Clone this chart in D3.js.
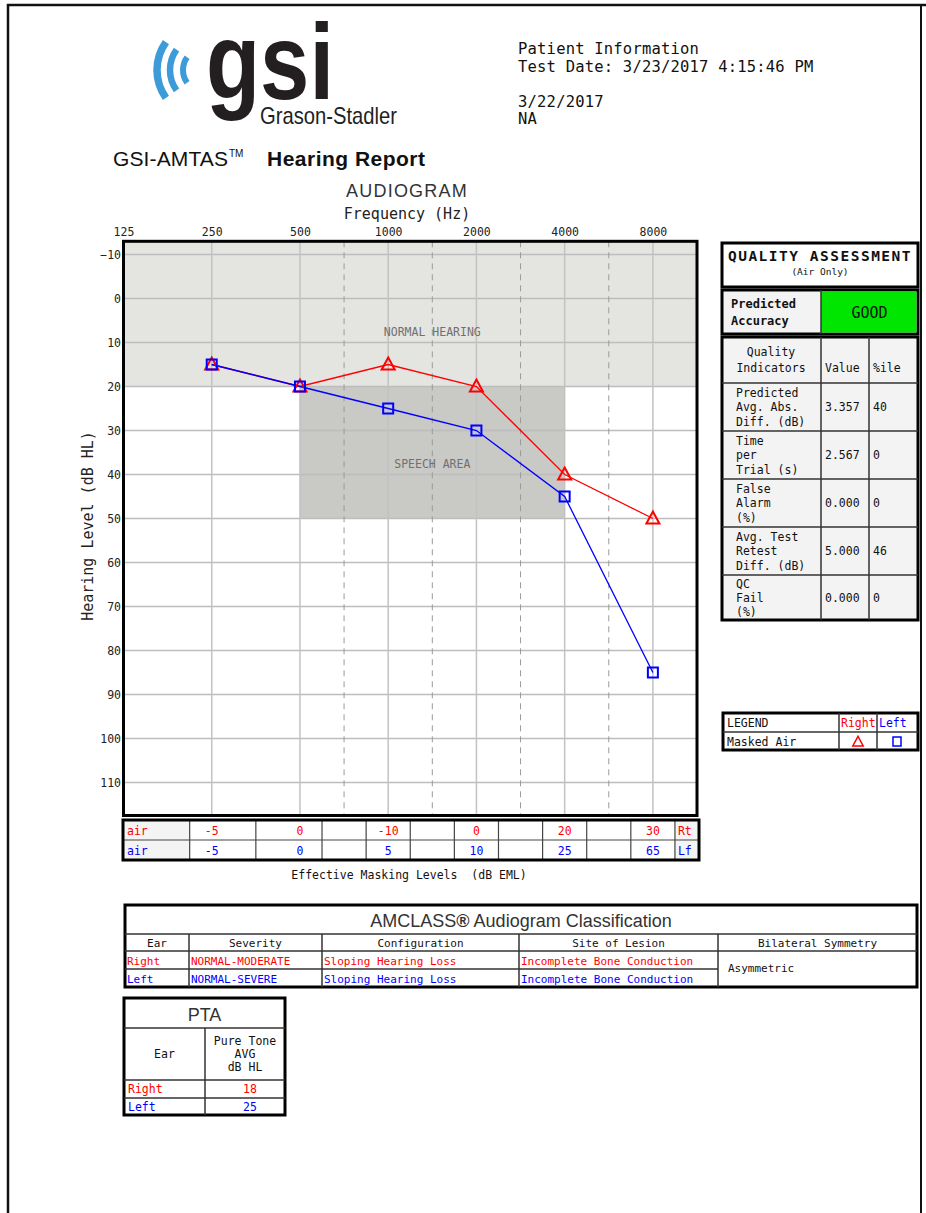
<!DOCTYPE html>
<html>
<head>
<meta charset="utf-8">
<script src="https://cdn.jsdelivr.net/npm/d3@7"></script>
<style>
  body { margin: 0; background: #fff; }
  svg { display: block; }
</style>
</head>
<body>
<script>
// ---- Audiogram data ----
const axisFrequencies = [125, 250, 500, 1000, 2000, 4000, 8000];
const testFrequencies = [250, 500, 1000, 2000, 4000, 8000];
const rightThresholds = [15, 20, 15, 20, 40, 50];   // dB HL, masked air, right ear
const leftThresholds  = [15, 20, 25, 30, 45, 85];   // dB HL, masked air, left ear
const levelTicks = [-10, 0, 10, 20, 30, 40, 50, 60, 70, 80, 90, 100, 110];

// Effective masking levels (dB EML)
const rightMasking = [-5, 0, -10, 0, 20, 30];
const leftMasking  = [-5, 0, 5, 10, 25, 65];

// Quality assessment
const qualityLabels = [
  ["Predicted", "Avg. Abs.", "Diff. (dB)"],
  ["Time", "per", "Trial (s)"],
  ["False", "Alarm", "(%)"],
  ["Avg. Test", "Retest", "Diff. (dB)"],
  ["QC", "Fail", "(%)"]
];
const qualityValues = ["3.357", "2.567", "0.000", "5.000", "0.000"];
const qualityPercentiles = ["40", "0", "0", "46", "0"];
const predictedAccuracy = "GOOD";

// AMCLASS classification
const classHeaders = ["Ear", "Severity", "Configuration", "Site of Lesion", "Bilateral Symmetry"];
const classRight = ["Right", "NORMAL-MODERATE", "Sloping Hearing Loss", "Incomplete Bone Conduction"];
const classLeft  = ["Left", "NORMAL-SEVERE", "Sloping Hearing Loss", "Incomplete Bone Conduction"];
const bilateralSymmetry = "Asymmetric";

// Pure tone average
const ptaEars = ["Right", "Left"];
const ptaValues = [18, 25];

// Patient header
const patientLines = ["Patient Information", "Test Date: 3/23/2017 4:15:46 PM"];
const patientLines2 = ["3/22/2017", "NA"];

// ---- Drawing ----
const W = 926, H = 1213;
const RED = "#ff0000", BLUE = "#0000ff";
const MONO = "'DejaVu Sans Mono', 'Liberation Mono', monospace";
const SANS = "'Liberation Sans', Arial, sans-serif";

const svg = d3.select("body").append("svg")
  .attr("width", W).attr("height", H)
  .attr("viewBox", `0 0 ${W} ${H}`);

svg.append("rect").attr("width", W).attr("height", H).attr("fill", "#fff");

// page frame
svg.append("path").attr("d", "M8,1213V5H926")
  .attr("fill", "none").attr("stroke", "#111").attr("stroke-width", 2.5);
svg.append("line").attr("x1", 921).attr("x2", 921).attr("y1", 5).attr("y2", 1213)
  .attr("stroke", "#111").attr("stroke-width", 2);

// ---- Logo ----
const logo = svg.append("g");
[[48, 7.5], [35, 6.5], [22, 6]].forEach(([r, w]) => {
  logo.append("path")
    .attr("transform", "translate(205,70)")
    .attr("d", d3.arc()({
      innerRadius: r - w / 2, outerRadius: r + w / 2,
      startAngle: -Math.PI / 2 - 0.62, endAngle: -Math.PI / 2 + 0.62,
      cornerRadius: w / 2
    }))
    .attr("fill", "#3c9bd8");
});
logo.append("text").attr("x", 206).attr("y", 99)
  .attr("font-family", SANS).attr("font-weight", "bold").attr("font-size", 108)
  .attr("textLength", 128).attr("lengthAdjust", "spacingAndGlyphs")
  .attr("fill", "#231f20").text("gsi");
logo.append("text").attr("x", 260).attr("y", 124)
  .attr("font-family", SANS).attr("font-size", 24)
  .attr("textLength", 137).attr("lengthAdjust", "spacingAndGlyphs")
  .attr("fill", "#231f20").text("Grason-Stadler");

// report title
svg.append("text").attr("x", 113).attr("y", 166)
  .attr("font-family", SANS).attr("font-size", 21).attr("fill", "#111")
  .attr("textLength", 115).attr("lengthAdjust", "spacing").text("GSI-AMTAS");
svg.append("text").attr("x", 229).attr("y", 157)
  .attr("font-family", SANS).attr("font-size", 10).attr("fill", "#111").text("TM");
svg.append("text").attr("x", 267).attr("y", 166)
  .attr("font-family", SANS).attr("font-size", 21).attr("font-weight", "bold").attr("fill", "#111")
  .attr("textLength", 158).attr("lengthAdjust", "spacing").text("Hearing Report");

// patient info
svg.append("g").selectAll("text").data(patientLines).join("text")
  .attr("x", 518).attr("y", (d, i) => 54 + i * 18)
  .attr("font-family", MONO).attr("font-size", 15.5).attr("letter-spacing", 0.2).attr("fill", "#111")
  .text(d => d);
svg.append("g").selectAll("text").data(patientLines2).join("text")
  .attr("x", 518).attr("y", (d, i) => 107 + i * 17)
  .attr("font-family", MONO).attr("font-size", 15.5).attr("letter-spacing", 0.2).attr("fill", "#111")
  .text(d => d);

// ---- Audiogram ----
const x = d3.scaleLog().base(2).domain([125, 8000 * Math.SQRT2]).range([123.5, 697]);
const y = d3.scaleLinear().domain([-10, 110]).range([254.5, 782.5]);
const plotTop = y(-13), plotBottom = y(117.5);
const plotLeft = x(125), plotRight = x(8000 * Math.SQRT2);

const chart = svg.append("g");

// shaded regions
chart.append("rect")
  .attr("x", plotLeft).attr("y", plotTop)
  .attr("width", plotRight - plotLeft).attr("height", y(20) - plotTop)
  .attr("fill", "#e4e4e0");
chart.append("rect")
  .attr("x", x(500)).attr("y", y(20))
  .attr("width", x(4000) - x(500)).attr("height", y(50) - y(20))
  .attr("fill", "#c9c9c6");

// horizontal grid
chart.append("g").selectAll("line").data(levelTicks).join("line")
  .attr("x1", plotLeft).attr("x2", plotRight)
  .attr("y1", d => y(d)).attr("y2", d => y(d))
  .attr("stroke", "#bdbdbd").attr("stroke-width", 1.5);

// octave grid
chart.append("g").selectAll("line").data(axisFrequencies.slice(1)).join("line")
  .attr("x1", d => x(d)).attr("x2", d => x(d))
  .attr("y1", plotTop).attr("y2", plotBottom)
  .attr("stroke", "#c2c2c2").attr("stroke-width", 1.5);

// inter-octave grid (dashed), midway between octaves from 500 Hz up
const interOctaves = d3.pairs(axisFrequencies.slice(2)).map(([a, b]) => Math.sqrt(a * b));
chart.append("g").selectAll("line").data(interOctaves).join("line")
  .attr("x1", d => x(d)).attr("x2", d => x(d))
  .attr("y1", plotTop).attr("y2", plotBottom)
  .attr("stroke", "#9a9a9a").attr("stroke-width", 1)
  .attr("stroke-dasharray", "6,5");

// region labels
const regionX = x(Math.sqrt(1000 * 2000));
chart.append("text").attr("x", regionX).attr("y", y(7.5) + 4)
  .attr("text-anchor", "middle").attr("font-family", MONO).attr("font-size", 11.5)
  .attr("fill", "#707070").text("NORMAL HEARING");
chart.append("text").attr("x", regionX).attr("y", y(37.5) + 4)
  .attr("text-anchor", "middle").attr("font-family", MONO).attr("font-size", 11.5)
  .attr("fill", "#707070").text("SPEECH AREA");

// frame
chart.append("rect")
  .attr("x", plotLeft).attr("y", plotTop)
  .attr("width", plotRight - plotLeft).attr("height", plotBottom - plotTop)
  .attr("fill", "none").attr("stroke", "#000").attr("stroke-width", 3);

// axes
const topAxis = d3.axisTop(x).tickValues(axisFrequencies).tickFormat(d3.format("d")).tickSize(0).tickPadding(0);
chart.append("g").attr("transform", `translate(0,${236})`).call(topAxis)
  .call(g => g.select(".domain").remove())
  .call(g => g.selectAll("text").attr("font-family", MONO).attr("font-size", 11.5).attr("fill", "#222").attr("dy", 0));

const leftAxis = d3.axisLeft(y).tickValues(levelTicks).tickSize(0).tickPadding(0);
chart.append("g").attr("transform", `translate(121,0)`).call(leftAxis)
  .call(g => g.select(".domain").remove())
  .call(g => g.selectAll("text").attr("font-family", MONO).attr("font-size", 11.5).attr("fill", "#222"));

chart.append("text").attr("x", 407).attr("y", 197).attr("text-anchor", "middle")
  .attr("font-family", SANS).attr("font-size", 18).attr("letter-spacing", 1.2)
  .attr("fill", "#333").text("AUDIOGRAM");
chart.append("text").attr("x", 407).attr("y", 219).attr("text-anchor", "middle")
  .attr("font-family", MONO).attr("font-size", 15).attr("fill", "#222").text("Frequency (Hz)");
chart.append("text")
  .attr("transform", `translate(93,${526}) rotate(-90)`).attr("text-anchor", "middle")
  .attr("font-family", MONO).attr("font-size", 15).attr("fill", "#222").text("Hearing Level (dB HL)");

// threshold lines
const line = d3.line().x(d => x(d[0])).y(d => y(d[1]));
const rightPts = testFrequencies.map((f, i) => [f, rightThresholds[i]]);
const leftPts = testFrequencies.map((f, i) => [f, leftThresholds[i]]);
chart.append("path").datum(rightPts).attr("d", line)
  .attr("fill", "none").attr("stroke", RED).attr("stroke-width", 1.3);
chart.append("path").datum(leftPts).attr("d", line)
  .attr("fill", "none").attr("stroke", BLUE).attr("stroke-width", 1.3);

const triPath = (cx, cy, s = 1) => `M${cx},${cy - 7 * s}L${cx + 6.5 * s},${cy + 5 * s}L${cx - 6.5 * s},${cy + 5 * s}Z`;
chart.append("g").selectAll("path").data(rightPts).join("path")
  .attr("d", d => triPath(x(d[0]), y(d[1])))
  .attr("fill", "none").attr("stroke", RED).attr("stroke-width", 2);
chart.append("g").selectAll("rect").data(leftPts).join("rect")
  .attr("x", d => x(d[0]) - 5).attr("y", d => y(d[1]) - 5)
  .attr("width", 10).attr("height", 10)
  .attr("fill", "none").attr("stroke", BLUE).attr("stroke-width", 2);

// ---- Masking table ----
const mask = svg.append("g");
const mTop = 820, mRow = 20;
const mLeft = 123, mRight = 699;
// column slots: octave frequencies plus the inter-octave slots from 500 Hz up
const maskSlots = [250].concat(
  d3.pairs(axisFrequencies.slice(2)).flatMap(([a, b]) => [a, Math.sqrt(a * b)]),
  [8000]);
const quarterOctave = (x(8000) - x(4000)) / 4;
const maskDividers = [x(250) - quarterOctave];
d3.pairs(maskSlots).forEach(([a, b]) => maskDividers.push((x(a) + x(b)) / 2));
maskDividers.push(x(8000) + quarterOctave);
const tagLeft = d3.max(maskDividers);

mask.append("rect").attr("x", mLeft).attr("y", mTop).attr("width", maskDividers[0] - mLeft).attr("height", mRow * 2).attr("fill", "#f4f4f4");
mask.append("rect").attr("x", tagLeft).attr("y", mTop).attr("width", mRight - tagLeft).attr("height", mRow * 2).attr("fill", "#f4f4f4");
mask.append("g").selectAll("line").data(maskDividers).join("line")
  .attr("x1", d => d).attr("x2", d => d).attr("y1", mTop).attr("y2", mTop + 2 * mRow)
  .attr("stroke", "#444").attr("stroke-width", 1.2);
mask.append("line").attr("x1", mLeft).attr("x2", mRight).attr("y1", mTop + mRow).attr("y2", mTop + mRow)
  .attr("stroke", "#444").attr("stroke-width", 1.2);
mask.append("rect").attr("x", mLeft).attr("y", mTop).attr("width", mRight - mLeft).attr("height", 2 * mRow)
  .attr("fill", "none").attr("stroke", "#000").attr("stroke-width", 3);

[[rightMasking, RED, "Rt"], [leftMasking, BLUE, "Lf"]].forEach(([vals, col, tag], r) => {
  const by = mTop + r * mRow + 14.5;
  mask.append("text").attr("x", mLeft + 4).attr("y", by).attr("font-family", MONO).attr("font-size", 11.5).attr("fill", col).text("air");
  mask.append("g").selectAll("text").data(vals).join("text")
    .attr("x", (d, i) => x(testFrequencies[i])).attr("y", by)
    .attr("text-anchor", "middle").attr("font-family", MONO).attr("font-size", 11.5).attr("fill", col)
    .text(d => d);
  mask.append("text").attr("x", tagLeft + 3).attr("y", by).attr("font-family", MONO).attr("font-size", 11.5).attr("fill", col).text(tag);
});
mask.append("text").attr("x", 409).attr("y", 879).attr("text-anchor", "middle")
  .attr("font-family", MONO).attr("font-size", 11.5).attr("fill", "#111")
  .attr("xml:space", "preserve").text("Effective Masking Levels  (dB EML)");

// ---- Generic table helpers ----
function box(g, x0, y0, w, h, fill) {
  g.append("rect").attr("x", x0).attr("y", y0).attr("width", w).attr("height", h)
    .attr("fill", fill || "#fff").attr("stroke", "#000").attr("stroke-width", 3);
}
function hline(g, x0, x1, yy) {
  g.append("line").attr("x1", x0).attr("x2", x1).attr("y1", yy).attr("y2", yy)
    .attr("stroke", "#333").attr("stroke-width", 1.5);
}
function vline(g, xx, y0, y1) {
  g.append("line").attr("x1", xx).attr("x2", xx).attr("y1", y0).attr("y2", y1)
    .attr("stroke", "#333").attr("stroke-width", 1.5);
}
function label(g, xx, yy, str, opts = {}) {
  return g.append("text").attr("x", xx).attr("y", yy)
    .attr("font-family", opts.font || MONO).attr("font-size", opts.size || 11.5)
    .attr("font-weight", opts.weight || "normal")
    .attr("text-anchor", opts.anchor || "start")
    .attr("letter-spacing", opts.ls || 0)
    .attr("fill", opts.color || "#111").text(str);
}

// ---- Quality assessment ----
const qa = svg.append("g");
const qL = 722, qR = 918, qC1 = 821, qC2 = 869;
box(qa, qL, 243, qR - qL, 44);
label(qa, (qL + qR) / 2, 261, "QUALITY ASSESSMENT", { anchor: "middle", weight: "bold", size: 14.5, ls: 1.5 });
label(qa, (qL + qR) / 2, 275, "(Air Only)", { anchor: "middle", size: 9.5 });

box(qa, qL, 290, qR - qL, 44, "#f3f3f3");
qa.append("rect").attr("x", qC1).attr("y", 291.5).attr("width", qR - qC1 - 1.5).attr("height", 41).attr("fill", "#00e600");
vline(qa, qC1, 290, 334);
label(qa, 731, 308, "Predicted", { weight: "bold", size: 12 });
label(qa, 731, 325, "Accuracy", { weight: "bold", size: 12 });
label(qa, (qC1 + qR) / 2, 318, predictedAccuracy, { anchor: "middle", size: 15 });

const qRows = [337, 383, 431, 479, 527, 575, 620];
box(qa, qL, 337, qR - qL, 620 - 337, "#f3f3f3");
qRows.slice(1, -1).forEach(r => hline(qa, qL, qR, r));
vline(qa, qC1, 337, 620);
vline(qa, qC2, 337, 620);
label(qa, 771, 356, "Quality", { anchor: "middle" });
label(qa, 771, 372, "Indicators", { anchor: "middle" });
label(qa, 825, 372, "Value");
label(qa, 873, 372, "%ile");
qualityLabels.forEach((lines, i) => {
  const top = qRows[i + 1], bot = qRows[i + 2];
  const mid = (top + bot) / 2;
  lines.forEach((s, j) => label(qa, 736, mid - 10 + j * 14.3, s));
  label(qa, 825, mid + 4, qualityValues[i]);
  label(qa, 873, mid + 4, qualityPercentiles[i]);
});

// ---- Legend ----
const lg = svg.append("g");
box(lg, 723, 713, 195, 37);
hline(lg, 723, 918, 732);
vline(lg, 839, 713, 750);
vline(lg, 877, 713, 750);
label(lg, 727, 727, "LEGEND");
label(lg, 841, 727, "Right", { color: RED });
label(lg, 879, 727, "Left", { color: BLUE });
label(lg, 727, 746, "Masked Air");
lg.append("path").attr("d", triPath(858, 742, 0.8)).attr("fill", "none").attr("stroke", RED).attr("stroke-width", 1.5);
lg.append("rect").attr("x", 893).attr("y", 737).attr("width", 8).attr("height", 9)
  .attr("fill", "none").attr("stroke", BLUE).attr("stroke-width", 1.5);

// ---- AMCLASS classification ----
const ac = svg.append("g");
const aL = 125, aR = 917;
const aCols = [aL, 189, 322, 519, 718, aR];
box(ac, aL, 905, aR - aL, 82);
hline(ac, aL, aR, 934);
hline(ac, aL, aR, 951);
hline(ac, aL, aCols[4], 969);
aCols.slice(1, -1).forEach(c => vline(ac, c, 934, 987));
const amTitle = label(ac, (aL + aR) / 2, 927, "", { anchor: "middle", font: SANS, size: 18, color: "#333" });
amTitle.append("tspan").text("AMCLASS");
amTitle.append("tspan").attr("font-weight", "bold").text("®");
amTitle.append("tspan").text(" Audiogram Classification");
classHeaders.forEach((h, i) => label(ac, (aCols[i] + aCols[i + 1]) / 2, 947, h, { anchor: "middle", size: 11 }));
[[classRight, RED, 965], [classLeft, BLUE, 983]].forEach(([row, col, by]) => {
  row.forEach((s, i) => label(ac, aCols[i] + 2, by, s, { color: col, size: 11 }));
});
label(ac, 728, 972, bilateralSymmetry, { size: 11 });

// ---- PTA ----
const pt = svg.append("g");
const pL = 124, pR = 285, pC = 205;
box(pt, pL, 998, pR - pL, 117);
hline(pt, pL, pR, 1028);
hline(pt, pL, pR, 1080);
hline(pt, pL, pR, 1098);
vline(pt, pC, 1028, 1115);
label(pt, (pL + pR) / 2, 1021, "PTA", { anchor: "middle", font: SANS, size: 18, color: "#333" });
label(pt, (pL + pC) / 2, 1058, "Ear", { anchor: "middle" });
["Pure Tone", "AVG", "dB HL"].forEach((s, i) => label(pt, (pC + pR) / 2, 1045 + i * 13, s, { anchor: "middle" }));
ptaEars.forEach((ear, i) => {
  const col = i === 0 ? RED : BLUE;
  const by = 1093 + i * 18;
  label(pt, 128, by, ear, { color: col });
  label(pt, (pC + pR) / 2 + 5, by, ptaValues[i], { anchor: "middle", color: col });
});
</script>
</body>
</html>
